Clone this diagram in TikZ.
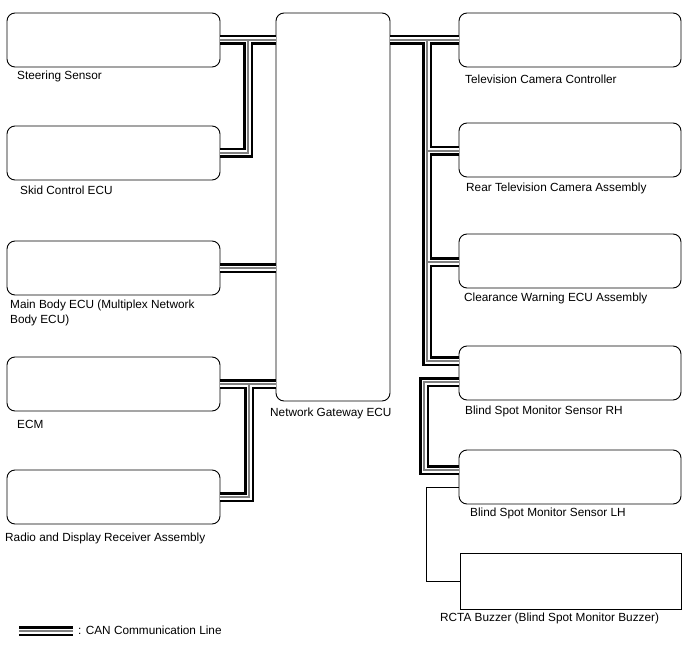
\documentclass[tikz,border=0pt]{standalone}
\usepackage{fontspec}
\setmainfont{Liberation Sans}
\begin{document}
\begin{tikzpicture}[x=1pt,y=-1pt,
  box/.style={draw,line width=0.9pt,rounded corners=8pt,inner sep=0pt,outer sep=0pt,anchor=north west},
  sqbox/.style={draw,line width=1pt,inner sep=0pt,outer sep=0pt,anchor=north west},
  lbl/.style={anchor=west,inner sep=0pt,align=left,font=\fontsize{11.8}{15}\selectfont},
  canblack/.style={line width=10.5pt,black,line join=miter},
  canwhite/.style={line width=5pt,white,line join=miter},
  cangray/.style={line width=1.6pt,black!50,line join=miter},
  thinline/.style={line width=0.8pt}]
\useasboundingbox (0,0) rectangle (688,658);
% boxes left
\node[box,minimum width=213pt,minimum height=54pt] (ss) at (7,13) {};
\node[box,minimum width=213pt,minimum height=54pt] (skid) at (7,126) {};
\node[box,minimum width=213pt,minimum height=54pt] (mb) at (7,241) {};
\node[box,minimum width=213pt,minimum height=54pt] (ecm) at (7,357) {};
\node[box,minimum width=213pt,minimum height=54pt] (radio) at (7,470) {};
% gateway
\node[box,minimum width=114pt,minimum height=388pt] (gw) at (276,13) {};
% boxes right
\node[box,minimum width=222pt,minimum height=54pt] (tv) at (459,13) {};
\node[box,minimum width=222pt,minimum height=54pt] (rtv) at (459,123) {};
\node[box,minimum width=222pt,minimum height=54pt] (cw) at (459,234) {};
\node[box,minimum width=222pt,minimum height=54pt] (bsr) at (459,346) {};
\node[box,minimum width=222pt,minimum height=54pt] (bsl) at (459,450) {};
\node[sqbox,minimum width=221pt,minimum height=56pt] (bz) at (460,553) {};
% labels
\node[lbl] (lss) at (17,76) {Steering Sensor};
\node[lbl] (lskid) at (20,190) {Skid Control ECU};
\node[lbl] (lmb) at (10,312.5) {Main Body ECU (Multiplex Network\\Body ECU)};
\node[lbl] (lecm) at (17,424) {ECM};
\node[lbl] (lradio) at (5,538) {Radio and Display Receiver Assembly};
\node[lbl] (lgw) at (270,413) {Network Gateway ECU};
\node[lbl] (ltv) at (465,79) {Television Camera Controller};
\node[lbl] (lrtv) at (466,188) {Rear Television Camera Assembly};
\node[lbl] (lcw) at (464,298) {Clearance Warning ECU Assembly};
\node[lbl] (lbsr) at (465,411) {Blind Spot Monitor Sensor RH};
\node[lbl] (lbsl) at (470,513) {Blind Spot Monitor Sensor LH};
\node[lbl] (lbz) at (440,618) {RCTA Buzzer (Blind Spot Monitor Buzzer)};
% legend
\coordinate (la) at (19,631);
\coordinate (lb) at (73,631);
\node[lbl] (ltxt) at (78,630) {: CAN Communication Line};
% bus coordinates
\coordinate (lv1) at (248,40);
\coordinate (lv2) at (249,384);
\coordinate (rv1) at (427,40);
\coordinate (rv2) at (427,151);
\coordinate (rv3) at (427,262);
\newcommand\canbus[1]{%
  \draw[#1] (ss.east) -- (ss.east -| gw.west);
  \draw[#1] (lv1) |- (skid.east);
  \draw[#1] (mb.east) -- (mb.east -| gw.west);
  \draw[#1] (ecm.east) -- (ecm.east -| gw.west);
  \draw[#1] (lv2) |- (radio.east);
  \draw[#1] (tv.west -| gw.east) -- (tv.west);
  \draw[#1] (rv1) |- ([yshift=-1pt]rtv.west);
  \draw[#1] (rv2) |- ([yshift=-1pt]cw.west);
  \draw[#1] (rv3) |- ([yshift=12pt]bsr.west);
  \draw[#1] ([yshift=-9pt]bsr.west) -| ([xshift=-35pt,yshift=7pt]bsl.west) -- ([yshift=7pt]bsl.west);
  \draw[#1] (la) -- (lb);
}
\canbus{canblack}
\canbus{canwhite}
\canbus{cangray}
% thin line
\draw[thinline] ([yshift=-10pt]bsl.west) -- ++(-33,0) |- (bz.west);
\end{tikzpicture}
\end{document}
